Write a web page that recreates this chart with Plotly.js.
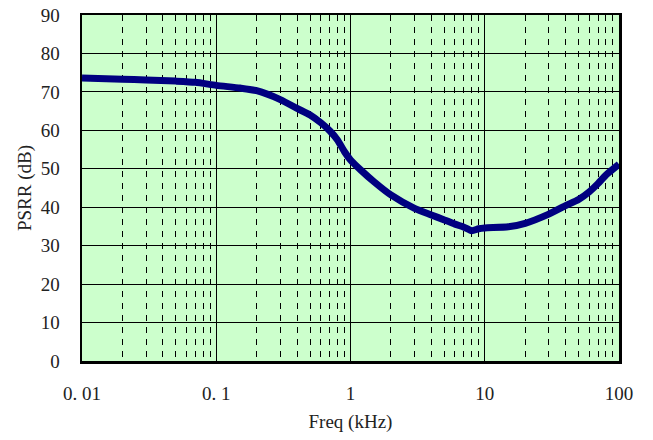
<!DOCTYPE html>
<html>
<head>
<meta charset="utf-8">
<script src="https://cdn.plot.ly/plotly-3.0.1.min.js"></script>
<style>html,body{margin:0;padding:0;background:#fff;}#chart{width:653px;height:440px;}</style>
</head>
<body>
<div id="chart"></div>
<script>
const freqKHz = [0.01, 0.02, 0.03, 0.05, 0.07, 0.1, 0.15, 0.2, 0.3, 0.4, 0.5, 0.6, 0.7, 0.8, 0.9, 1.0, 1.2, 1.5, 2, 3, 4, 5, 6, 7, 8, 9, 10, 15, 20, 30, 40, 50, 60, 70, 80, 100];
const psrrDB  = [73.6, 73.3, 73.1, 72.8, 72.5, 71.7, 71.0, 70.3, 68.0, 65.7, 64.0, 62.0, 59.9, 57.5, 54.5, 52.3, 49.6, 46.6, 43.2, 39.7, 38.0, 36.7, 35.6, 34.8, 33.9, 34.4, 34.6, 34.9, 35.8, 38.2, 40.4, 42.0, 44.0, 46.2, 48.4, 51.2];
const xTickVals = [0.01, 0.1, 1, 10, 100];
const xTickText = ["0. 01", "0. 1", "1", "10", "100"];
const yTickVals = [0, 10, 20, 30, 40, 50, 60, 70, 80, 90];

const fontFam = 'Liberation Serif';

const trace = {
  x: freqKHz, y: psrrDB, type: 'scatter', mode: 'lines',
  line: {color: '#000080', width: 7, shape: 'spline', smoothing: 0.6},
  hoverinfo: 'skip'
};

const layout = {
  width: 653, height: 440,
  margin: {l: 82, r: 34, t: 15, b: 79, pad: 0},
  paper_bgcolor: '#ffffff',
  plot_bgcolor: '#ccffcc',
  showlegend: false,
  font: {family: fontFam, color: '#222'},
  xaxis: {
    type: 'log',
    range: [-2, 2],
    tickvals: xTickVals, ticktext: xTickText,
    tickfont: {family: fontFam, size: 19, color: '#222'},
    showgrid: true, gridcolor: '#000', gridwidth: 1,
    showline: true, linecolor: '#000', linewidth: 2.5, mirror: true,
    ticks: 'outside', ticklen: 14, tickcolor: 'rgba(0,0,0,0)',
    minor: {dtick: 'D1', showgrid: true, gridcolor: '#000', gridwidth: 1, griddash: '6px,6px', ticks: ''},
    zeroline: false,
    title: {text: 'Freq (kHz)', font: {family: fontFam, size: 19, color: '#222'}, standoff: 12}
  },
  yaxis: {
    range: [0, 90],
    tickvals: yTickVals,
    tickfont: {family: fontFam, size: 19, color: '#222'},
    showgrid: true, gridcolor: '#000', gridwidth: 1,
    showline: true, linecolor: '#000', linewidth: 2.5, mirror: true,
    ticks: 'outside', ticklen: 16, tickcolor: 'rgba(0,0,0,0)',
    zeroline: false,
    title: {text: 'PSRR (dB)', font: {family: fontFam, size: 19, color: '#222'}, standoff: 4}
  }
};

Plotly.newPlot('chart', [trace], layout, {staticPlot: true, displayModeBar: false});
</script>
</body>
</html>
